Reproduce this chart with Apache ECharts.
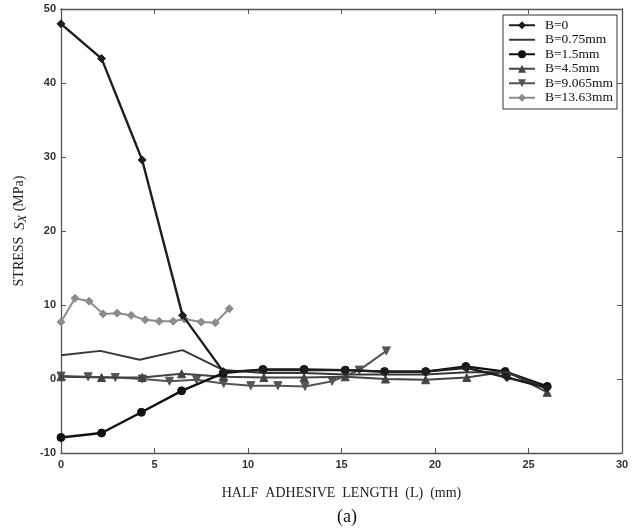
<!DOCTYPE html>
<html>
<head>
<meta charset="utf-8">
<script src="https://cdn.jsdelivr.net/npm/echarts@6/dist/echarts.min.js"></script>
<style>
html,body{margin:0;padding:0;background:#fff;}
#chart{width:641px;height:528px;}
</style>
</head>
<body>
<div id="chart"></div>
<script>
// Longitudinal stress S_X along half the adhesive length, for several bond-line offsets B
const seriesNames = ['B=0', 'B=0.75mm', 'B=1.5mm', 'B=4.5mm', 'B=9.065mm', 'B=13.63mm'];

const xB0 = [0, 2.17, 4.34, 6.5, 8.68, 10.85, 13.0, 15.2, 17.35, 19.5, 21.7, 23.85, 26.0];
const yB0 = [48, 43.3, 29.6, 8.6, 1.0, 1.2, 1.2, 1.2, 1.0, 1.0, 1.5, 0.2, -1.2];

const xB075 = [0, 2.1, 4.2, 6.5, 8.68, 10.85, 13.0, 15.2, 17.35, 19.5, 21.7, 23.85, 26.0];
const yB075 = [3.2, 3.8, 2.6, 3.9, 1.2, 0.8, 0.8, 0.6, 0.6, 0.6, 0.9, 0.9, -1.3];

const xB15 = [0, 2.17, 4.3, 6.45, 8.68, 10.8, 13.0, 15.2, 17.3, 19.5, 21.65, 23.75, 26.0];
const yB15 = [-7.9, -7.3, -4.5, -1.6, 0.8, 1.3, 1.3, 1.2, 1.0, 1.0, 1.7, 1.0, -1.0];

const xB45 = [0, 2.17, 4.34, 6.45, 8.68, 10.85, 13.0, 15.2, 17.35, 19.5, 21.7, 23.85, 26.0];
const yB45 = [0.3, 0.2, 0.2, 0.7, 0.3, 0.2, 0.2, 0.3, 0.0, -0.1, 0.2, 1.0, -1.8];

const xB9065 = [0, 1.45, 2.9, 4.35, 5.8, 7.25, 8.7, 10.15, 11.6, 13.05, 14.5, 15.95, 17.4];
const yB9065 = [0.4, 0.3, 0.2, 0.0, -0.3, -0.1, -0.6, -0.9, -0.9, -1.0, -0.3, 1.2, 3.8];

const xB1363 = [0, 0.75, 1.5, 2.25, 3.0, 3.75, 4.5, 5.25, 6.0, 6.6, 7.5, 8.25, 9.0];
const yB1363 = [7.7, 10.9, 10.5, 8.8, 8.9, 8.6, 8.0, 7.8, 7.8, 8.1, 7.7, 7.6, 9.5];

const xTicks = [0, 5, 10, 15, 20, 25, 30];
const yTicks = [-10, 0, 10, 20, 30, 40, 50];

const pair = (xs, ys) => xs.map((x, i) => [x, ys[i]]);

const styles = [
  { color: '#1e1e1e', symbol: 'diamond', size: 8, width: 2.4 },
  { color: '#383838', symbol: 'none', size: 0, width: 2 },
  { color: '#111111', symbol: 'circle', size: 8, width: 2.4 },
  { color: '#444444', symbol: 'triangle', size: 8, width: 2 },
  { color: '#555555', symbol: 'path://M0,0 L10,0 L5,9 Z', size: 8, width: 2 },
  { color: '#8c8c8c', symbol: 'diamond', size: 8, width: 2 }
];
const data = [
  pair(xB0, yB0), pair(xB075, yB075), pair(xB15, yB15),
  pair(xB45, yB45), pair(xB9065, yB9065), pair(xB1363, yB1363)
];

const axisLine = { onZero: false, lineStyle: { color: '#555', width: 1.3 } };
const axisTick = { inside: true, length: 5, lineStyle: { color: '#555' } };
const tickLabel = { fontFamily: 'Liberation Sans', fontSize: 11, fontWeight: 'bold', color: '#333' };

// legend entries: the plain-line series shows only its line segment
const legendItems = seriesNames.map((name, i) =>
  styles[i].symbol === 'none' ? { name, itemStyle: { opacity: 0 } } : { name });

const chart = echarts.init(document.getElementById('chart'), null, { renderer: 'canvas' });
chart.setOption({
  backgroundColor: '#fff',
  animation: false,
  grid: { left: 61, right: 19, top: 9, bottom: 75 },
  title: {
    text: '(a)', left: 332, top: 503,
    textStyle: { fontFamily: 'Liberation Serif', fontSize: 18, fontWeight: 'normal', color: '#111' }
  },
  legend: {
    data: legendItems,
    orient: 'vertical',
    right: 24, top: 15,
    itemWidth: 26, itemHeight: 10, itemGap: 0,
    padding: [3, 4, 4, 5],
    borderColor: '#333', borderWidth: 1,
    backgroundColor: '#fff',
    textStyle: { fontFamily: 'Liberation Serif', fontSize: 13.5, lineHeight: 14.5, color: '#111', padding: [0, 0, 0, 5] }
  },
  xAxis: [{
    type: 'value', min: xTicks[0], max: xTicks[xTicks.length - 1], interval: 5,
    axisLine, axisTick,
    axisLabel: Object.assign({ margin: 6 }, tickLabel),
    splitLine: { show: false },
    name: 'HALF  ADHESIVE  LENGTH  (L)  (mm)', nameLocation: 'middle', nameGap: 33,
    nameTextStyle: { fontFamily: 'Liberation Serif', fontSize: 14, color: '#222' }
  }, {
    type: 'value', position: 'top', min: 0, max: 30, interval: 5,
    axisLine, axisTick,
    axisLabel: { show: false }, splitLine: { show: false }
  }],
  yAxis: [{
    type: 'value', min: yTicks[0], max: yTicks[yTicks.length - 1], interval: 10,
    axisLine, axisTick,
    axisLabel: Object.assign({ margin: 5 }, tickLabel),
    splitLine: { show: false },
    name: '{n|STRESS  }{i|S}{s|X}{n| (MPa)}', nameLocation: 'middle', nameGap: 26, nameRotate: 90,
    nameTextStyle: {
      rich: {
        n: { fontFamily: 'Liberation Serif', fontSize: 14, color: '#222' },
        i: { fontFamily: 'Liberation Serif', fontSize: 15, fontStyle: 'italic', color: '#222' },
        s: { fontFamily: 'Liberation Serif', fontSize: 12, fontStyle: 'italic', color: '#222', padding: [7, 0, 0, 0] }
      }
    }
  }, {
    type: 'value', position: 'right', min: -10, max: 50, interval: 10,
    axisLine, axisTick,
    axisLabel: { show: false }, splitLine: { show: false }
  }],
  series: seriesNames.map((name, i) => ({
    name, type: 'line', data: data[i],
    xAxisIndex: 0, yAxisIndex: 0,
    symbol: styles[i].symbol, symbolSize: styles[i].size, showSymbol: styles[i].symbol !== 'none',
    lineStyle: { color: styles[i].color, width: styles[i].width },
    itemStyle: { color: styles[i].color, borderColor: styles[i].color },
    z: 10 - i
  }))
});
</script>
</body>
</html>
